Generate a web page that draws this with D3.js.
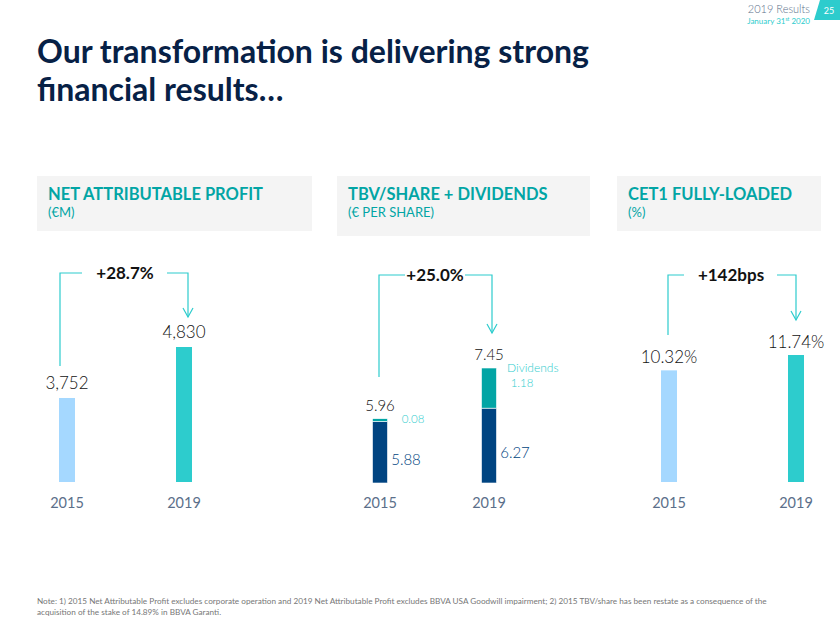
<!DOCTYPE html>
<html><head><meta charset="utf-8">
<script src="https://cdn.jsdelivr.net/npm/d3@7/dist/d3.min.js"></script>
<style>
html,body{margin:0;padding:0;background:#fff;}
svg{display:block;font-family:Lato,"Open Sans",sans-serif;}
</style></head>
<body>
<svg id="c" width="840" height="625"></svg>
<script>
const years = ["2015", "2019"];
const netProfit = [3752, 4830];
const tbvShare = [5.88, 6.27];
const dividends = [0.08, 1.18];
const tbvTotal = [5.96, 7.45];
const cet1 = [10.32, 11.74];
const growthLabels = ["+28.7%", "+25.0%", "+142bps"];
const panelTitles = ["NET ATTRIBUTABLE PROFIT", "TBV/SHARE + DIVIDENDS", "CET1 FULLY-LOADED"];
const panelUnits = ["(€M)", "(€ PER SHARE)", "(%)"];

const C = {navy:"#072146", teal:"#02a5a5", aqua:"#2dcccd", light:"#a5d8ff", blue:"#004481", year:"#5b6f8a", text:"#121212", gray:"#f4f4f4"};
const svg = d3.select("#c");

// header top right
svg.append("text").attr("x",810).attr("y",13).attr("text-anchor","end").attr("font-size",11).attr("font-weight",300).attr("fill","#5b6f8a").text("2019 Results");
const sub = svg.append("text").attr("x",810).attr("y",24).attr("text-anchor","end").attr("font-size",8).attr("fill",C.aqua);
sub.append("tspan").text("January 31");
sub.append("tspan").attr("font-size",5).attr("dy",-3).text("st");
sub.append("tspan").attr("dy",3).text(" 2020");
svg.append("path").attr("d","M820,0 L840,0 L840,20 L814,20 Z").attr("fill",C.aqua);
svg.append("text").attr("x",829).attr("y",14).attr("text-anchor","middle").attr("font-size",9).attr("fill","#fff").text("25");

// title
svg.append("text").attr("x",37).attr("y",63).attr("font-size",32).attr("font-weight",700).attr("fill",C.navy).text("Our transformation is delivering strong");
svg.append("text").attr("x",37).attr("y",101).attr("font-size",32).attr("font-weight",700).attr("fill",C.navy).text("financial results…");

// panel headers
const boxes = [[37,176,275,55],[337,176,253,60],[617,176,204,55]];
boxes.forEach((b,i)=>{
  svg.append("rect").attr("x",b[0]).attr("y",b[1]).attr("width",b[2]).attr("height",b[3]).attr("fill",C.gray);
  svg.append("text").attr("x",b[0]+11).attr("y",200).attr("font-size",16.5).attr("font-weight",700).attr("fill",C.teal).text(panelTitles[i]);
  svg.append("text").attr("x",b[0]+11).attr("y",217).attr("font-size",13).attr("fill",C.teal).text(panelUnits[i]);
});

const barW = 16;
function yearLabels(x){
  years.forEach(y=>{
    svg.append("text").attr("x",x(y)).attr("y",508).attr("text-anchor","middle").attr("font-size",14.5).attr("font-weight",400).attr("fill",C.year).text(y);
  });
}
function bracket(xl, yl, xr, yr, top, textX, gapL, gapR, label){
  const g = svg.append("g").attr("fill","none").attr("stroke",C.aqua).attr("stroke-width",1.2);
  g.append("path").attr("d",`M${xl},${yl} V${top} H${gapL}`);
  g.append("path").attr("d",`M${gapR},${top} H${xr} V${yr}`);
  g.append("path").attr("d",`M${xr-5},${yr-9} L${xr},${yr} L${xr+5},${yr-9}`);
  svg.append("text").attr("x",textX).attr("y",top+6).attr("text-anchor","middle").attr("font-size",17).attr("font-weight",700).attr("fill",C.text).text(label);
}

// Panel 1
{
  const x = d3.scalePoint().domain(years).range([67,184]);
  const y = d3.scaleLinear().domain([1976,4830]).range([482,347]);
  const cols = [C.light, C.aqua];
  svg.selectAll(".b1").data(netProfit).join("rect")
    .attr("x",(d,i)=>x(years[i])-barW/2).attr("y",d=>y(d)).attr("width",barW).attr("height",d=>y.range()[0]-y(d)).attr("fill",(d,i)=>cols[i]);
  svg.selectAll(".l1").data(netProfit).join("text")
    .attr("x",(d,i)=>x(years[i])).attr("y",d=>y(d)-9).attr("text-anchor","middle").attr("font-size",17).attr("font-weight",300).attr("fill",C.text).text(d=>d3.format(",")(d));
  yearLabels(x);
  bracket(60,366,188,317,273,125,82,167,growthLabels[0]);
}
// Panel 2
{
  const x = d3.scalePoint().domain(years).range([380,489]);
  const y = d3.scaleLinear().domain([4.07,7.45]).range([483,368]);
  const w = 15;
  svg.selectAll(".b2a").data(tbvShare).join("rect")
    .attr("x",(d,i)=>x(years[i])-w/2).attr("y",d=>y(d)).attr("width",w).attr("height",d=>y.range()[0]-y(d)).attr("fill",C.blue).attr("stroke","#fff").attr("stroke-width",0.6);
  svg.selectAll(".b2b").data(dividends).join("rect")
    .attr("x",(d,i)=>x(years[i])-w/2).attr("y",(d,i)=>y(tbvTotal[i])).attr("width",w).attr("height",(d,i)=>y(tbvShare[i])-y(tbvTotal[i])).attr("fill",C.teal).attr("stroke","#fff").attr("stroke-width",0.6);
  svg.selectAll(".l2").data(tbvTotal).join("text")
    .attr("x",(d,i)=>x(years[i])).attr("y",d=>y(d)-8).attr("text-anchor","middle").attr("font-size",15).attr("font-weight",300).attr("fill",C.text).text(d=>d.toFixed(2));
  svg.selectAll(".l2b").data(tbvShare).join("text")
    .attr("x",(d,i)=>x(years[i])+26).attr("y",(d,i)=>i===0?465:458).attr("text-anchor","middle").attr("font-size",15).attr("font-weight",300).attr("fill",C.blue).text(d=>d.toFixed(2));
  svg.append("text").attr("x",x(years[0])+33).attr("y",423).attr("text-anchor","middle").attr("font-size",11.5).attr("font-weight",300).attr("fill",C.aqua).text(dividends[0].toFixed(2));
  svg.append("text").attr("x",507).attr("y",372).attr("font-size",12).attr("font-weight",300).attr("fill",C.aqua).text("Dividends");
  svg.append("text").attr("x",522).attr("y",387).attr("text-anchor","middle").attr("font-size",11.5).attr("font-weight",300).attr("fill",C.aqua).text(dividends[1].toFixed(2));
  yearLabels(x);
  bracket(379,377,492,333,275,435,405,465,growthLabels[1]);
}
// Panel 3
{
  const x = d3.scalePoint().domain(years).range([669,796]);
  const y = d3.scaleLinear().domain([0,11.74]).range([482,355]);
  const cols = [C.light, C.aqua];
  svg.selectAll(".b3").data(cet1).join("rect")
    .attr("x",(d,i)=>x(years[i])-barW/2).attr("y",d=>y(d)).attr("width",barW).attr("height",d=>y.range()[0]-y(d)).attr("fill",(d,i)=>cols[i]);
  svg.selectAll(".l3").data(cet1).join("text")
    .attr("x",(d,i)=>x(years[i])).attr("y",d=>y(d)-7).attr("text-anchor","middle").attr("font-size",17).attr("font-weight",300).attr("fill",C.text).text(d=>d.toFixed(2)+"%");
  yearLabels(x);
  bracket(668,335,796,320,275,731,684,777,growthLabels[2]);
}

// footnote
svg.append("text").attr("x",37).attr("y",604).attr("font-size",8.2).attr("fill","#777").text("Note: 1) 2015 Net Attributable Profit excludes corporate operation and 2019 Net Attributable Profit excludes BBVA USA Goodwill impairment; 2) 2015 TBV/share has been restate as a consequence of the");
svg.append("text").attr("x",37).attr("y",615).attr("font-size",8.2).attr("fill","#777").text("acquisition of the stake of 14.89% in BBVA Garanti.");
</script>
</body></html>
